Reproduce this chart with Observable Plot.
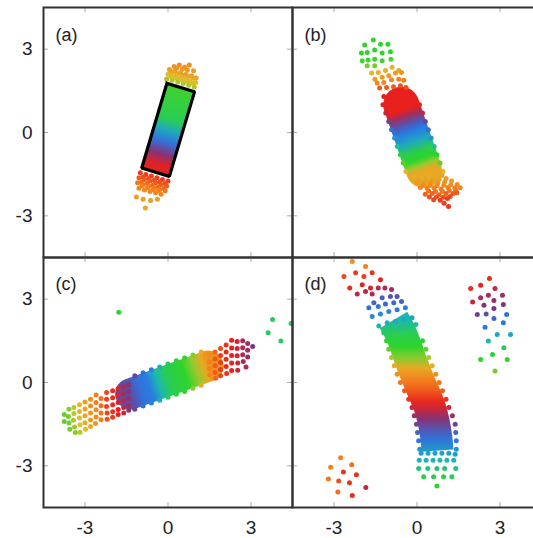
<!DOCTYPE html>
<html><head><meta charset="utf-8">
<script src="https://cdn.jsdelivr.net/npm/d3@7"></script>
<script src="https://cdn.jsdelivr.net/npm/@observablehq/plot@0.6"></script>
<style>
html,body{margin:0;padding:0;background:#fff;overflow:hidden;}
#chart{position:relative;width:533px;height:538px;overflow:hidden;background:#fff;}
#chart svg{position:absolute;overflow:visible;}
</style></head><body><div id="chart"></div>
<script>
// ---------- data ----------
const xTicks = [-3, 0, 3];
const yTicks = [-3, 0, 3];
const axisDomain = [-4.5, 4.5];
const panelLabels = ["(a)", "(b)", "(c)", "(d)"];
// cyclic hue index -> colour (0 red, 1 orange, 2 yellow, 3 green, 4 cyan, 5 blue, 6 purple, 7 red)
const hueStops = [0, 1, 2, 3, 4, 5, 6, 7];
const hueColors = ["#e8201e", "#f4801c", "#e0c22a", "#2ed42e", "#1cb8b0", "#2a78e4", "#7c3480", "#e8201e"];

// dense cores: spine points [x, y] and gradient stops [fraction along, hue]
const coreA = [[-0.45, -1.43], [0.46, 1.62]];
const coreAStops = [[0, 7.0], [0.1, 6.9], [0.22, 6.1], [0.36, 5.1], [0.5, 4.2], [0.62, 3.3], [1, 2.9]];
const rectA = [[-0.04, 1.77], [0.96, 1.47], [0.05, -1.58], [-0.95, -1.28], [-0.04, 1.77]];
const coreB = [[-0.57, 1.0], [0.25, -1.35]];
const coreBStops = [[0, 7.0], [0.085, 7.0], [0.17, 6.4], [0.28, 5.6], [0.4, 5.0], [0.57, 4.2], [0.72, 3.2], [0.83, 3.0], [0.92, 2.4], [1, 1.6]];
const coreC = [[-1.35, -0.41], [1.45, 0.59]];
const coreCStops = [[0, 5.6], [0.125, 5.1], [0.25, 4.9], [0.36, 4.0], [0.48, 3.3], [0.7, 3.0], [0.84, 2.4], [0.95, 1.6], [1, 1.3]];
const coreD = [[-0.85, 2.25], [-0.6, 1.8], [-0.4, 1.3], [-0.24, 0.83], [0.09, 0.0], [0.45, -0.85], [0.62, -1.5], [0.7, -2.0], [0.74, -2.45]];
const coreDStops = [[0, 4.0], [0.096, 3.3], [0.2, 3.0], [0.29, 2.5], [0.37, 1.6], [0.46, 1.0], [0.54, 0.6], [0.62, 0.1], [0.68, 6.7], [0.76, 6.1], [0.84, 5.5], [0.91, 5.1], [1, 4.5]];

// individual dots [x, y, hue]
const aTop = [
  [-0.05,1.93,2.3],[0.15,1.88,2.3],[0.35,1.82,2.3],[0.55,1.76,2.3],[0.75,1.70,2.3],[0.95,1.64,2.3],
  [0.10,2.02,2.1],[0.30,1.96,2.1],[0.50,1.90,2.1],[0.70,1.84,2.1],[0.90,1.78,2.1],
  [0.00,2.10,1.9],[0.20,2.04,1.9],[0.40,1.98,1.9],[0.60,1.92,1.9],[0.80,1.86,1.9],[1.00,1.80,1.9],
  [0.12,2.18,1.7],[0.32,2.12,1.7],[0.52,2.07,1.7],[0.72,2.02,1.7],[0.92,1.95,1.7],
  [0.05,2.27,1.5],[0.25,2.22,1.5],[0.45,2.16,1.5],[0.65,2.10,1.5],[0.85,2.04,1.5],[1.02,1.97,1.6],
  [0.32,2.32,1.4],[0.52,2.28,1.4],[0.70,2.25,1.4],
  [0.22,2.38,1.3],[0.41,2.43,1.2],[0.60,2.36,1.3],[0.77,2.43,1.2],[0.92,2.22,1.4]
];
const aBottom = [
  [-1.00,-1.45,0.3],[-0.80,-1.51,0.3],[-0.60,-1.57,0.3],[-0.40,-1.63,0.3],[-0.20,-1.69,0.3],[0.00,-1.75,0.3],
  [-0.90,-1.60,0.45],[-0.70,-1.66,0.45],[-0.50,-1.72,0.45],[-0.30,-1.78,0.45],[-0.10,-1.84,0.45],
  [-1.05,-1.63,0.6],[-0.85,-1.69,0.6],[-0.65,-1.75,0.6],[-0.45,-1.81,0.6],[-0.25,-1.87,0.6],[-0.05,-1.93,0.6],
  [-0.95,-1.78,0.75],[-0.75,-1.84,0.75],[-0.55,-1.90,0.75],[-0.35,-1.96,0.75],[-0.15,-2.02,0.75],
  [-1.10,-1.81,0.9],[-0.90,-1.87,0.9],[-0.70,-1.93,0.9],[-0.50,-1.99,0.9],[-0.30,-2.05,0.9],[-0.10,-2.10,0.9],
  [-0.95,-1.93,1.0],[-0.75,-1.99,1.0],[-0.55,-2.05,1.0],[-0.35,-2.10,1.0],
  [-1.05,-2.01,1.1],[-0.85,-2.07,1.1],[-0.65,-2.12,1.1],[-0.45,-2.17,1.1],[-0.25,-2.22,1.1],
  [-1.14,-2.32,1.5],[-0.90,-2.40,1.5],[-0.63,-2.45,1.5],[-0.38,-2.40,1.5],[-0.82,-2.72,1.6]
];
const bGreen = [
  [-1.89,3.15,3.0],[-1.58,3.33,3.0],[-1.32,3.18,3.0],[-1.05,3.18,3.0],
  [-2.01,2.86,3.0],[-1.80,2.88,3.0],[-1.53,2.97,3.0],[-1.26,2.86,3.0],[-0.96,2.91,3.0],
  [-1.98,2.58,2.9],[-1.77,2.61,2.9],[-1.53,2.64,2.9],[-1.26,2.58,2.9],[-0.94,2.64,2.8],
  [-1.80,2.40,2.6],[-1.53,2.40,2.6]
];
const bTop = [
  [-1.64,2.14,1.8],[-1.40,2.16,1.7],[-1.14,2.23,1.7],[-0.90,2.35,1.8],[-0.66,2.23,1.6],
  [-1.52,1.92,1.4],[-1.26,1.99,1.4],[-1.02,2.04,1.4],[-0.78,2.14,1.4],[-0.56,2.16,1.3],
  [-1.44,1.78,1.1],[-1.20,1.80,1.1],[-0.92,1.90,1.1],[-0.66,1.92,1.0],[-0.48,1.88,1.0],
  [-1.35,1.60,0.6],[-1.10,1.62,0.6],[-0.85,1.65,0.6],[-0.60,1.68,0.5],[-0.40,1.62,0.5]
];
const bEdge = [
  [-1.20,1.30,7.0],[-0.15,1.30,7.0],[-1.23,1.00,7.0],[0.09,1.00,7.0],
  [-1.13,0.70,6.6],[0.20,0.70,6.6],[-1.02,0.40,5.8],[0.30,0.40,5.8],
  [-0.92,0.10,5.1],[0.41,0.10,5.1],[-0.81,-0.20,4.6],[0.51,-0.20,4.6],
  [-0.71,-0.50,3.8],[0.62,-0.50,3.8],[-0.60,-0.80,3.1],[0.72,-0.80,3.1],
  [-0.50,-1.10,2.7],[0.83,-1.10,2.7],[-0.40,-1.40,1.8],[0.94,-1.40,1.8]
];
const bBottom = [
  [-0.10,-1.60,1.7],[0.15,-1.62,1.7],[0.40,-1.60,1.7],[0.65,-1.58,1.6],[0.90,-1.55,1.6],
  [0.05,-1.70,1.5],[0.30,-1.71,1.5],[0.55,-1.70,1.5],[0.80,-1.69,1.5],[1.05,-1.66,1.5],
  [0.00,-1.80,1.4],[0.25,-1.82,1.4],[0.50,-1.80,1.3],[0.75,-1.83,1.3],[1.00,-1.78,1.3],[1.25,-1.75,1.4],
  [0.22,-1.90,1.2],[0.47,-1.91,1.2],[0.72,-1.92,1.2],[0.97,-1.90,1.2],[1.22,-1.88,1.2],[1.45,-1.87,1.2],
  [0.12,-1.98,1.1],[0.37,-2.02,1.0],[0.62,-2.00,1.0],[0.87,-2.03,1.0],[1.12,-1.98,1.0],[1.37,-2.00,1.0],[1.56,-1.99,1.1],
  [0.42,-2.11,0.9],[0.67,-2.12,0.9],[0.92,-2.12,0.9],[1.17,-2.09,0.9],[1.40,-2.08,0.9],
  [0.30,-2.22,0.7],[0.55,-2.20,0.7],[0.80,-2.24,0.7],[1.05,-2.20,0.7],[1.30,-2.20,0.6],[1.44,-2.17,0.6],
  [0.45,-2.32,0.5],[0.70,-2.32,0.5],[0.95,-2.33,0.5],[1.20,-2.30,0.5],
  [0.60,-2.42,0.4],[0.84,-2.44,0.3],[1.10,-2.38,0.3],[0.98,-2.55,0.3],[1.14,-2.66,0.2]
];
const cLeft = [
  [-3.75,-1.15,2.7],[-3.75,-1.40,2.7],
  [-3.58,-0.96,2.5],[-3.60,-1.22,2.6],[-3.58,-1.46,2.6],[-3.55,-1.68,2.6],
  [-3.40,-0.90,2.2],[-3.40,-1.12,2.2],[-3.42,-1.36,2.3],[-3.38,-1.60,2.4],[-3.35,-1.80,2.5],
  [-3.20,-0.80,1.8],[-3.20,-1.04,1.8],[-3.20,-1.28,1.9],[-3.18,-1.52,2.0],[-3.18,-1.79,2.2],
  [-3.00,-0.70,1.5],[-3.00,-0.95,1.5],[-3.00,-1.20,1.6],[-3.00,-1.45,1.7],[-2.98,-1.68,1.9],
  [-2.80,-0.60,1.2],[-2.80,-0.85,1.2],[-2.80,-1.10,1.3],[-2.80,-1.35,1.4],[-2.80,-1.58,1.6],
  [-2.60,-0.45,1.0],[-2.60,-0.72,1.0],[-2.60,-0.98,1.1],[-2.60,-1.24,1.2],[-2.62,-1.48,1.3],
  [-2.42,-0.58,0.8],[-2.42,-0.84,0.8],[-2.42,-1.10,0.9],[-2.42,-1.34,1.0]
];
const cMid = [
  [-2.22,-0.36,0.4],[-2.22,-0.60,0.3],[-2.22,-0.86,0.3],[-2.20,-1.10,0.4],[-2.20,-1.32,0.5],
  [-2.00,-0.30,0.1],[-2.00,-0.55,0.1],[-2.00,-0.80,0.1],[-2.00,-1.05,0.2],[-2.00,-1.25,0.3],
  [-1.80,-0.22,6.9],[-1.80,-0.47,6.9],[-1.80,-0.72,6.9],[-1.80,-0.97,7.0],[-1.80,-1.15,7.0],
  [-1.60,-0.15,6.5],[-1.60,-0.40,6.5],[-1.60,-0.65,6.5],[-1.60,-0.90,6.6],[-1.60,-1.10,6.7],
  [-1.42,-0.08,6.1],[-1.42,-0.33,6.1],[-1.42,-0.58,6.2],[-1.42,-0.83,6.2],[-1.42,-1.00,6.3]
];
const cEdge = [
  [-1.20,0.24,5.7],[-1.20,-0.96,5.7],[-0.90,0.35,5.1],[-0.90,-0.85,5.1],
  [-0.60,0.46,4.9],[-0.60,-0.74,4.9],[-0.30,0.56,4.2],[-0.30,-0.64,4.2],
  [0.00,0.67,3.4],[0.00,-0.53,3.4],[0.30,0.78,3.1],[0.30,-0.42,3.1],
  [0.60,0.88,3.0],[0.60,-0.32,3.0],[0.90,0.99,2.5],[0.90,-0.21,2.5],
  [1.20,1.10,1.7],[1.20,-0.10,1.7]
];
const cRight = [
  [1.50,1.00,1.1],[1.50,0.75,1.0],[1.50,0.50,1.0],[1.50,0.28,1.0],
  [1.70,1.10,0.7],[1.70,0.85,0.6],[1.70,0.60,0.6],[1.70,0.36,0.6],[1.72,0.15,0.7],
  [1.90,1.22,0.4],[1.90,0.97,0.3],[1.90,0.72,0.3],[1.90,0.47,0.3],[1.90,0.24,0.4],
  [2.10,1.35,0.2],[2.10,1.10,0.1],[2.10,0.84,0.1],[2.10,0.58,0.1],[2.12,0.32,0.2],
  [2.30,1.52,7.0],[2.30,1.24,7.0],[2.30,0.97,7.0],[2.30,0.70,7.0],[2.30,0.43,7.0],
  [2.50,1.48,6.8],[2.50,1.22,6.8],[2.50,0.96,6.8],[2.52,0.70,6.8],[2.52,0.44,6.7],
  [2.70,1.50,6.5],[2.70,1.25,6.5],[2.70,1.00,6.5],[2.72,0.76,6.5],[2.82,0.56,6.4],
  [2.88,1.40,6.3],[2.88,1.16,6.3],[2.88,0.92,6.2],[3.06,1.30,6.0]
];
const cIsolated = [[-1.78,2.53,3.0],[3.78,2.27,3.4],[3.62,1.79,3.4],[4.08,1.49,3.4],[4.45,2.12,3.3]];
const dTop = [
  [-2.34,4.36,1.2],[-1.86,4.18,1.0],
  [-2.64,3.82,0.4],[-2.22,3.95,0.3],[-1.92,3.82,0.3],[-1.62,3.95,0.2],
  [-2.43,3.40,0.1],[-1.98,3.52,7.0],[-1.68,3.40,6.9],[-1.32,3.70,6.9],
  [-2.16,3.19,6.6],[-1.86,3.28,6.6],[-1.62,3.19,6.5],[-1.40,3.40,6.5],[-1.16,3.40,6.4],[-0.92,3.35,6.3],
  [-1.56,2.87,5.3],[-1.26,3.05,5.4],[-0.96,3.10,5.5],[-0.72,3.10,5.6],
  [-1.74,2.69,5.1],[-1.40,2.74,5.1],[-1.14,2.83,5.2],[-0.84,2.87,5.2],[-0.56,2.92,5.3],
  [-1.62,2.38,4.7],[-1.32,2.47,4.7],[-1.02,2.56,4.8],[-0.72,2.62,4.9],[-0.42,2.69,4.9],
  [-1.38,2.03,4.1],[-1.08,2.15,4.1],[-0.78,2.20,4.2],[-0.48,2.27,4.2],[-0.18,2.33,4.3],
  [-1.20,1.79,3.6],[-0.90,1.91,3.6],[-0.60,1.97,3.7],[-0.30,2.03,3.7],[-0.04,2.09,3.8]
];
const dEdge = [
  [-1.10,1.5,3.0],[0.20,1.5,3.0],[-1.02,1.2,2.7],[0.32,1.2,2.7],
  [-0.92,0.9,2.3],[0.42,0.9,2.3],[-0.82,0.6,1.7],[0.55,0.6,1.7],
  [-0.72,0.3,1.2],[0.68,0.3,1.2],[-0.60,0.0,0.9],[0.80,0.0,0.9],
  [-0.45,-0.3,0.6],[0.92,-0.3,0.6],[-0.30,-0.6,0.2],[1.05,-0.6,0.2],
  [-0.18,-0.9,6.8],[1.15,-0.9,6.8],[-0.10,-1.2,6.3],[1.28,-1.2,6.3],
  [-0.02,-1.5,5.8],[1.38,-1.5,5.8],[0.02,-1.8,5.3],[1.40,-1.8,5.3],
  [0.06,-2.1,5.0],[1.42,-2.1,5.0],[0.10,-2.4,4.6],[1.42,-2.4,4.6]
];
const dBottom = [
  [0.15,-2.55,4.4],[0.40,-2.55,4.4],[0.65,-2.55,4.4],[0.90,-2.55,4.4],[1.15,-2.55,4.4],[1.38,-2.58,4.4],
  [0.08,-2.80,4.1],[0.33,-2.80,4.1],[0.58,-2.80,4.0],[0.83,-2.80,4.0],[1.08,-2.80,4.0],[1.33,-2.80,4.1],
  [0.06,-3.10,3.6],[0.39,-3.10,3.6],[0.72,-3.10,3.5],[1.00,-3.10,3.5],[1.40,-3.10,3.6],
  [0.24,-3.39,3.2],[0.60,-3.39,3.2],[0.96,-3.39,3.2],[1.26,-3.39,3.2],
  [0.72,-3.73,3.0]
];
const dRight = [
  [2.62,3.74,0.1],[1.94,3.38,0.1],[2.30,3.50,7.0],[2.82,3.38,6.7],[2.01,2.90,6.7],
  [2.30,3.05,6.4],[2.58,3.14,6.4],[2.78,2.95,6.3],[3.09,3.14,6.3],[2.42,2.78,6.1],
  [2.78,2.66,6.0],[3.12,2.81,6.0],[2.18,2.45,5.8],[2.50,2.47,5.6],[2.78,2.30,5.3],
  [3.24,2.45,5.1],[2.46,1.99,5.0],[3.12,2.15,5.0],[2.90,1.73,4.3],[3.38,1.73,4.3],
  [2.58,1.49,4.0],[3.14,1.25,3.4],[2.73,1.01,3.1],[2.30,0.83,3.0],[3.26,0.83,3.0],[2.82,0.41,2.6]
];
const dLowerLeft = [
  [-2.76,-2.71,1.0],[-3.12,-3.05,1.0],[-2.36,-2.96,0.8],[-2.66,-3.22,0.2],[-2.19,-3.32,0.2],
  [-3.20,-3.47,0.9],[-2.83,-3.55,0.5],[-2.44,-3.61,0.2],[-1.85,-3.78,6.7],[-2.86,-3.94,0.8],[-2.34,-4.07,0.1]
];

// ---------- layout and drawing ----------
const W = 249, H = 250, ML = 43, MT = 7, MB = 31;
const font = "'Liberation Sans', Arial, Helvetica, sans-serif";
const ns = "http://www.w3.org/2000/svg";
const chart = document.getElementById("chart");

function panel({key, left, top, yAxis, xAxis, label, core, dots, extra = []}) {
  const gid = "grad" + key;
  const plot = Plot.plot({
    width: (yAxis ? ML : 0) + W,
    height: (xAxis ? 0 : MT) + H + (xAxis ? MB : 0),
    marginLeft: yAxis ? ML : 0, marginRight: 0,
    marginTop: xAxis ? 0 : MT, marginBottom: xAxis ? MB : 0,
    x: {domain: axisDomain, axis: xAxis ? "bottom" : null, ticks: xTicks, tickSize: 0, tickPadding: 13,
        tickFormat: d => String(d), label: null},
    y: {domain: axisDomain, axis: yAxis ? "left" : null, ticks: yTicks, tickSize: 0, tickPadding: 11,
        tickFormat: d => String(d), label: null},
    color: {type: "linear", domain: hueStops, range: hueColors},
    style: {fontFamily: font, fontSize: "19px", background: "transparent", color: "#222", overflow: "visible"},
    marks: [
      Plot.line(core.spine, {x: d => d[0], y: d => d[1], curve: "catmull-rom",
        stroke: `url(#${gid})`, strokeWidth: core.w, strokeLinecap: core.cap, strokeLinejoin: "round",
        ariaDescription: gid}),
      Plot.dot(dots.map(([x, y, h]) => ({x, y, h})), {x: "x", y: "y", fill: "h", r: 2.5}),
      ...extra,
      Plot.tickX(xTicks, {x: d => d, stroke: "#aaa", insetBottom: H - 5}),
      Plot.tickX(xTicks, {x: d => d, stroke: "#aaa", insetTop: H - 5}),
      Plot.tickY(yTicks, {y: d => d, stroke: "#aaa", insetRight: W - 5}),
      Plot.tickY(yTicks, {y: d => d, stroke: "#aaa", insetLeft: W - 5}),
      Plot.frame({stroke: "#333", strokeWidth: 2}),
      Plot.text([label], {text: d => d, frameAnchor: "top-left", textAnchor: "start", lineAnchor: "top",
        dx: 12, dy: xAxis ? 20 : 21, fontSize: 18, fill: "#222"})
    ]
  });
  plot.style.left = left + "px";
  plot.style.top = top + "px";
  chart.appendChild(plot);

  // gradient along the dense core, placed at the rendered path ends
  let path = null;
  plot.querySelectorAll(`[aria-description="${gid}"] path, [stroke="url(#${gid})"] path, path[stroke="url(#${gid})"]`)
    .forEach(p => { if ((p.getAttribute("d") || "").length > 3) path = p; });
  if (path) {
    const n = path.getAttribute("d").match(/-?\d*\.?\d+(?:e[-+]?\d+)?/gi).map(Number);
    const x1 = n[0], y1 = n[1], y2 = n[n.length - 1];
    const x2 = core.vertical ? x1 : n[n.length - 2];
    const colorScale = plot.scale("color");
    const defs = document.createElementNS(ns, "defs");
    const lg = document.createElementNS(ns, "linearGradient");
    lg.setAttribute("id", gid);
    lg.setAttribute("gradientUnits", "userSpaceOnUse");
    lg.setAttribute("x1", x1); lg.setAttribute("y1", y1);
    lg.setAttribute("x2", x2); lg.setAttribute("y2", y2);
    for (const [t, h] of core.stops) {
      const s = document.createElementNS(ns, "stop");
      s.setAttribute("offset", t);
      s.setAttribute("stop-color", colorScale.apply(h));
      lg.appendChild(s);
    }
    defs.appendChild(lg);
    plot.insertBefore(defs, plot.firstChild);
    path.setAttribute("stroke", `url(#${gid})`);
  }
}

panel({key: "A", left: 0, top: 0, yAxis: true, xAxis: false, label: panelLabels[0],
  core: {spine: coreA, stops: coreAStops, w: 29, cap: "butt"},
  dots: [...aTop, ...aBottom],
  extra: [Plot.line(rectA, {x: d => d[0], y: d => d[1], stroke: "#000", strokeWidth: 3.2,
    strokeLinejoin: "miter", strokeLinecap: "square"})]});
panel({key: "B", left: ML + W, top: 0, yAxis: false, xAxis: false, label: panelLabels[1],
  core: {spine: coreB, stops: coreBStops, w: 36, cap: "round"},
  dots: [...bGreen, ...bTop, ...bEdge, ...bBottom]});
panel({key: "C", left: 0, top: MT + H, yAxis: true, xAxis: true, label: panelLabels[2],
  core: {spine: coreC, stops: coreCStops, w: 31, cap: "round"},
  dots: [...cLeft, ...cMid, ...cEdge, ...cRight, ...cIsolated]});
panel({key: "D", left: ML + W, top: MT + H, yAxis: false, xAxis: true, label: panelLabels[3],
  core: {spine: coreD, stops: coreDStops, w: 32, cap: "butt", vertical: true},
  dots: [...dTop, ...dEdge, ...dBottom, ...dRight, ...dLowerLeft]});
</script></body></html>
